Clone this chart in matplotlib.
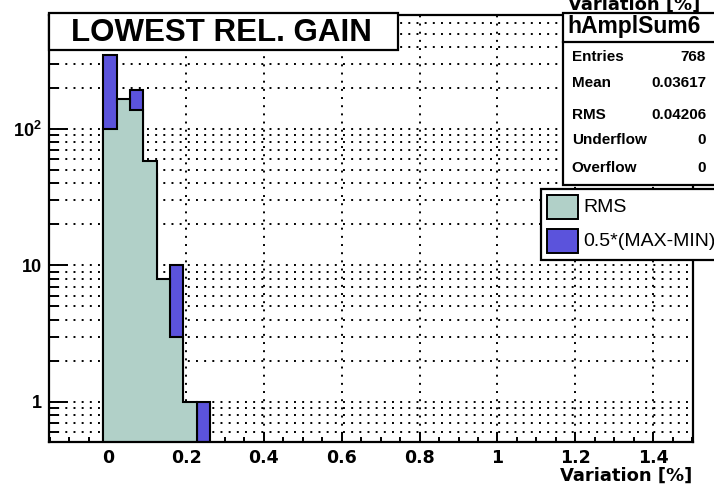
import numpy as np
import matplotlib
matplotlib.use('Agg')
import matplotlib.pyplot as plt
from matplotlib.patches import Rectangle
from matplotlib.ticker import MultipleLocator, LogLocator, FuncFormatter, NullFormatter

# histogram contents
bin_edges = [-0.0123, 0.0219, 0.0561, 0.0903, 0.1245, 0.1587, 0.1929, 0.2271, 0.2613]
rms_counts = [100, 166, 139, 58, 8, 3, 1, 0]
spread_counts = [351, 158, 194, 47, 7, 10, 0, 1]   # hAmplSum6, 768 entries

title = 'LOWEST REL. GAIN'
xlabel = 'Variation [%]'
hist_name = 'hAmplSum6'
stat_names = ['Entries', 'Mean', 'RMS', 'Underflow', 'Overflow']
stat_values = ['768', '0.03617', '0.04206', '0', '0']
legend_labels = ['RMS', '0.5*(MAX-MIN)']

green = '#b1d0c8'
blue = '#5b53dc'

plt.rcParams['mathtext.fontset'] = 'custom'
plt.rcParams['mathtext.rm'] = 'Liberation Sans:bold'
plt.rcParams['mathtext.bf'] = 'Liberation Sans:bold'

W, H = 714, 491
fig = plt.figure(figsize=(W / 100, H / 100), dpi=100)
ax = fig.add_axes([49 / W, 1 - 441.7 / H, (692.5 - 49) / W, (441.7 - 15) / H])

# 0.5*(MAX-MIN) first, RMS drawn on top of it (like "same" in ROOT)
base = 0.1
ax.stairs(np.clip(spread_counts, base, None), bin_edges, baseline=base, fill=True,
          facecolor=blue, edgecolor='black', lw=1.5, zorder=1)
ax.stairs(np.clip(rms_counts, base, None), bin_edges, baseline=base, fill=True,
          facecolor=green, edgecolor='black', lw=1.5, zorder=2)

ax.set_yscale('log')
ax.set_xlim(-0.152, 1.501)
ax.set_ylim(0.508, 690)

ax.xaxis.set_major_locator(MultipleLocator(0.2))
ax.xaxis.set_minor_locator(MultipleLocator(0.05))
ax.xaxis.set_major_formatter(FuncFormatter(lambda v, p: '%g' % round(v, 3)))
ax.yaxis.set_major_locator(LogLocator(base=10))
ax.yaxis.set_minor_locator(LogLocator(base=10, subs=np.arange(2, 10)))
ax.yaxis.set_minor_formatter(NullFormatter())
ylabels = {1: '1', 10: '10', 100: r'$10^{2}$'}
ax.yaxis.set_major_formatter(FuncFormatter(lambda v, p: ylabels.get(int(round(v)), '')))

ax.tick_params(axis='both', which='both', direction='in', width=1.4, top=False, right=False)
ax.tick_params(axis='y', which='major', length=14, pad=5)
ax.tick_params(axis='y', which='minor', length=7)
ax.tick_params(axis='x', which='major', length=7, pad=5)
ax.tick_params(axis='x', which='minor', length=3.6)
for lab in ax.get_xticklabels():
    lab.set_fontfamily('DejaVu Sans')
    lab.set_fontweight('bold')
    lab.set_fontsize(12.5)
for lab in ax.get_yticklabels():
    lab.set_fontfamily('Liberation Sans')
    lab.set_fontweight('bold')
    lab.set_fontsize(13)

ax.set_axisbelow(True)
ax.grid(True, axis='x', which='major', color='black', lw=1.4, ls=(0, (1, 3.2)))
ax.grid(True, axis='y', which='both', color='black', lw=1.4, ls=(0, (1, 3.2)))
for s in ax.spines.values():
    s.set_linewidth(1.6)

ax.set_xlabel(xlabel, fontfamily='DejaVu Sans', fontweight='bold', fontsize=13, ha='right', va='baseline')
ax.xaxis.set_label_coords(1.0, -(481 - 441.7) / (441.7 - 15))

# duplicate axis title cut off at the top of the canvas
fig.text(700 / W, 1 - 10 / H, xlabel, ha='right', va='baseline',
         fontfamily='DejaVu Sans', fontweight='bold', fontsize=13)


def box(x0, y0, x1, y1, **kw):
    r = Rectangle((x0 / W, 1 - y1 / H), (x1 - x0) / W, (y1 - y0) / H,
                  transform=fig.transFigure, **kw)
    fig.add_artist(r)
    return r


def ftext(x, y, s, **kw):
    fig.text(x / W, 1 - y / H, s, va='baseline', **kw)


# title box
box(49, 13, 398, 50, facecolor='white', edgecolor='black', lw=1.6, zorder=5)
ftext(221, 40.7, title, ha='center', fontfamily='Liberation Sans', fontweight='bold',
      fontsize=22.5, zorder=6)

# stats box
box(563, 13, 720, 185, facecolor='white', edgecolor='black', lw=1.6, zorder=5)
fig.add_artist(plt.Line2D([563 / W, 1], [1 - 42.3 / H] * 2, transform=fig.transFigure,
                          color='black', lw=1.6, zorder=6))
ftext(634, 33, hist_name, ha='center', fontfamily='Liberation Sans', fontweight='bold',
      fontsize=16.5, zorder=6)
row_base = [60.7, 87.3, 119.3, 144, 171.7]
for name, val, yb in zip(stat_names, stat_values, row_base):
    ftext(571.7, yb, name, ha='left', fontfamily='Liberation Sans', fontweight='bold',
          fontsize=11, zorder=6)
    ftext(706, yb, val, ha='right', fontfamily='Liberation Sans', fontweight='bold',
          fontsize=11, zorder=6)

# legend
box(541, 189, 720, 260, facecolor='white', edgecolor='black', lw=1.6, zorder=5)
for i, (lab, col) in enumerate(zip(legend_labels, [green, blue])):
    y0 = 195 + 34 * i
    box(547, y0, 578, y0 + 24, facecolor=col, edgecolor='black', lw=1.4, zorder=6)
    ftext(583, 211.7 + 34 * i, lab, ha='left', fontfamily='Liberation Sans',
          fontsize=14, zorder=6)

fig.savefig('out.png', dpi=100)
